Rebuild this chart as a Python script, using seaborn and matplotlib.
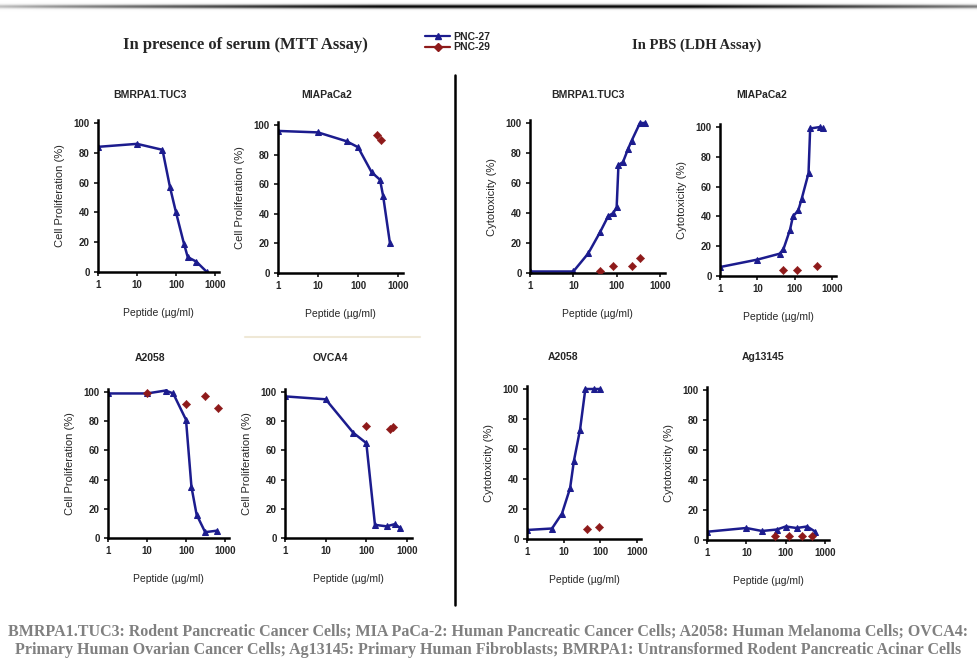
import numpy as np
import pandas as pd
import matplotlib
matplotlib.use("Agg")
import matplotlib.pyplot as plt
import seaborn as sns
from matplotlib.lines import Line2D
from matplotlib import font_manager

# ---------------- data ----------------
panel_titles = ["BMRPA1.TUC3", "MIAPaCa2", "A2058", "OVCA4",
                "BMRPA1.TUC3", "MIAPaCa2", "A2058", "Ag13145"]
ylabels_mtt = "Cell Proliferation (%)"
ylabels_ldh = "Cytotoxicity (%)"
xlabel_txt = "Peptide (\u00b5g/ml)"
xtick_vals = [1, 10, 100, 1000]
xtick_labels = ["1", "10", "100", "1000"]
ytick_vals = [0, 20, 40, 60, 80, 100]

# MTT BMRPA1.TUC3
p1_x27 = [1, 10, 45, 70, 100, 160, 200, 330, 620]
p1_y27 = [84, 86, 82, 57, 40, 19, 10, 7, 0]
p1_x29 = []
p1_y29 = []
# MTT MIAPaCa2
p2_x27 = [1, 10, 52, 100, 220, 355, 425, 630]
p2_y27 = [96, 95, 89, 85, 68, 63, 52, 20]
p2_x29 = [300, 380]
p2_y29 = [93, 90]
# MTT A2058
p3_x27 = [1, 10, 30, 47, 100, 138, 187, 310, 615]
p3_y27 = [99, 99, 101, 99, 81, 35, 16, 4, 5]
p3_x29 = [10, 100, 310, 660]
p3_y29 = [99, 92, 97, 89]
# MTT OVCA4
p4_x27 = [1, 10, 48, 100, 163, 315, 500, 670]
p4_y27 = [97, 95, 72, 65, 9, 8, 9.5, 7]
p4_x29 = [100, 380, 460]
p4_y29 = [77, 75, 76]
# LDH BMRPA1.TUC3
p5_x27 = [1, 10, 22, 41, 64, 84, 100, 110, 140, 185, 220, 345, 450]
p5_y27 = [1, 1, 13, 27, 38, 40, 44, 72, 74, 83, 88, 100, 100]
p5_x29 = [41, 84, 220, 345]
p5_y29 = [1, 4.5, 4.5, 10]
# LDH MIAPaCa2
p6_x27 = [1, 10, 40, 50, 75, 90, 125, 155, 235, 260, 480, 560]
p6_y27 = [6, 11, 15, 18, 31, 40, 44, 52, 69, 99, 100, 99]
p6_x29 = [50, 112, 400]
p6_y29 = [4, 4, 7]
# LDH A2058
p7_x27 = [1, 4.8, 9, 15, 19, 28, 39, 66, 100]
p7_y27 = [6, 7, 17, 34, 52, 73, 100, 100, 100]
p7_x29 = [43, 90]
p7_y29 = [7, 8]
# LDH Ag13145
p8_x27 = [1, 10, 25, 60, 100, 190, 350, 570]
p8_y27 = [5.5, 8, 6, 7, 9, 8, 9, 5.5]
p8_x29 = [55, 120, 260, 460]
p8_y29 = [3, 3, 3, 3]

series27 = [(p1_x27, p1_y27), (p2_x27, p2_y27), (p3_x27, p3_y27), (p4_x27, p4_y27),
            (p5_x27, p5_y27), (p6_x27, p6_y27), (p7_x27, p7_y27), (p8_x27, p8_y27)]
series29 = [(p1_x29, p1_y29), (p2_x29, p2_y29), (p3_x29, p3_y29), (p4_x29, p4_y29),
            (p5_x29, p5_y29), (p6_x29, p6_y29), (p7_x29, p7_y29), (p8_x29, p8_y29)]

caption1 = ("BMRPA1.TUC3: Rodent Pancreatic Cancer Cells; MIA PaCa-2: Human Pancreatic "
            "Cancer Cells; A2058: Human Melanoma Cells; OVCA4:")
caption2 = ("Primary Human Ovarian Cancer Cells; Ag13145: Primary Human Fibroblasts; "
            "BMRPA1: Untransformed Rodent Pancreatic Acinar Cells")

# ---------------- style ----------------
sns.set_style("ticks")
installed = {f.name for f in font_manager.fontManager.ttflist}
fam = [f for f in ['Liberation Sans Narrow', 'Liberation Sans', 'DejaVu Sans'] if f in installed]
plt.rcParams['font.family'] = fam
plt.rcParams['font.weight'] = 'bold'

W, H = 977, 662
fig = plt.figure(figsize=(W / 100, H / 100), dpi=100)
fig.patch.set_facecolor("white")

BLUE = "#1c1c8e"
RED = "#8e1a1a"

# pixel geometry: (x of 1, x of 1000, y of 100, y of 0)
geom = [(98, 215, 123, 272), (278, 398, 125, 273), (108, 225, 392, 538), (285, 407, 392, 538),
        (530, 660, 123, 273), (720, 832, 127, 276), (527, 637, 389, 539), (707, 825, 390, 540)]
title_pos = [(150, 95), (327, 95), (150, 358), (330, 358),
             (588, 95), (762, 95), (563, 357), (763, 357)]

XMAX = 1300
for i, (g, tp, ttl) in enumerate(zip(geom, title_pos, panel_titles)):
    x0, x1000, y100, y0 = g
    dec = (x1000 - x0) / 3.0
    right = x0 + dec * np.log10(XMAX)
    top = y0 - (y0 - y100) * 1.02
    ax = fig.add_axes([x0 / W, 1 - y0 / H, (right - x0) / W, (y0 - top) / H])
    ax.set_xscale("log")
    ax.set_xlim(1, XMAX)
    ax.set_ylim(0, 102)
    d27 = pd.DataFrame({"x": series27[i][0], "y": series27[i][1]})
    sns.lineplot(data=d27, x="x", y="y", ax=ax, color=BLUE, marker="^", markersize=5,
                 markeredgecolor=BLUE, linewidth=1.8, sort=False, estimator=None)
    if len(series29[i][0]):
        d29 = pd.DataFrame({"x": series29[i][0], "y": series29[i][1]})
        sns.scatterplot(data=d29, x="x", y="y", ax=ax, color=RED, marker="D", s=18,
                        edgecolor=RED, zorder=3)
    ax.set_xticks(xtick_vals)
    ax.set_xticklabels(xtick_labels)
    ax.minorticks_off()
    ax.set_yticks(ytick_vals)
    ax.tick_params(labelsize=7, length=3, width=1.3, direction="out", pad=3)
    for s in ["left", "bottom"]:
        ax.spines[s].set_linewidth(1.8)
        ax.spines[s].set_color("black")
    for s in ["top", "right"]:
        ax.spines[s].set_visible(False)
    ax.set_facecolor("white")
    ax.set_xlabel(xlabel_txt, fontsize=7.5, labelpad=13)
    ax.set_ylabel(ylabels_mtt if i < 4 else ylabels_ldh, fontsize=8, labelpad=6)
    fig.text(tp[0] / W, 1 - tp[1] / H, ttl, fontsize=7.5, ha="center", va="center")

# headers
fig.text(245 / W, 1 - 45 / H, "In presence of serum (MTT Assay)", family="Liberation Serif",
         fontweight="bold", fontsize=12, ha="center", va="center")
fig.text(697 / W, 1 - 45 / H, "In PBS (LDH Assay)", family="Liberation Serif",
         fontweight="bold", fontsize=10.5, ha="center", va="center")

handles = [Line2D([], [], color=BLUE, marker="^", markersize=4.5, linewidth=1.6, label="PNC-27"),
           Line2D([], [], color=RED, marker="D", markersize=4, linewidth=1.6, label="PNC-29")]
fig.legend(handles=handles, loc="center", bbox_to_anchor=(458 / W, 1 - 42 / H), frameon=False,
           prop={"size": 7.5, "weight": "bold"}, handlelength=2.4, labelspacing=0.05,
           borderpad=0, handletextpad=0.3)

# divider and decorative lines
fig.add_artist(Line2D([455 / W, 455 / W], [1 - 75 / H, 1 - 605 / H], color="black", linewidth=1.8))
fig.add_artist(Line2D([245 / W, 420 / W], [1 - 337 / H, 1 - 337 / H], color="#efe8d6", linewidth=1.5))

# top gradient bar
gax = fig.add_axes([0, 1 - 14 / H, 1, 14 / H])
xx = np.linspace(0, 1, 500)
yy = np.linspace(0, 14, 56)
horiz = np.clip(1.35 - np.abs(xx - 0.55) * 2.2, 0, 1) ** 0.5
vert = np.exp(-((yy - 6.5) / 2.2) ** 2)
gax.imshow(np.outer(vert, horiz), cmap="Greys", vmin=0, vmax=1, aspect="auto",
           interpolation="bilinear", extent=(0, 1, 14, 0))
gax.set_xlim(0, 1)
gax.set_ylim(14, 0)
gax.axis("off")

# caption
fig.text(488 / W, 1 - 632 / H, caption1, family="Liberation Serif", fontweight="bold",
         fontsize=11.5, color="#808080", ha="center", va="center")
fig.text(488 / W, 1 - 650 / H, caption2, family="Liberation Serif", fontweight="bold",
         fontsize=11.5, color="#808080", ha="center", va="center")

fig.savefig("out.png", dpi=100, facecolor="white")
